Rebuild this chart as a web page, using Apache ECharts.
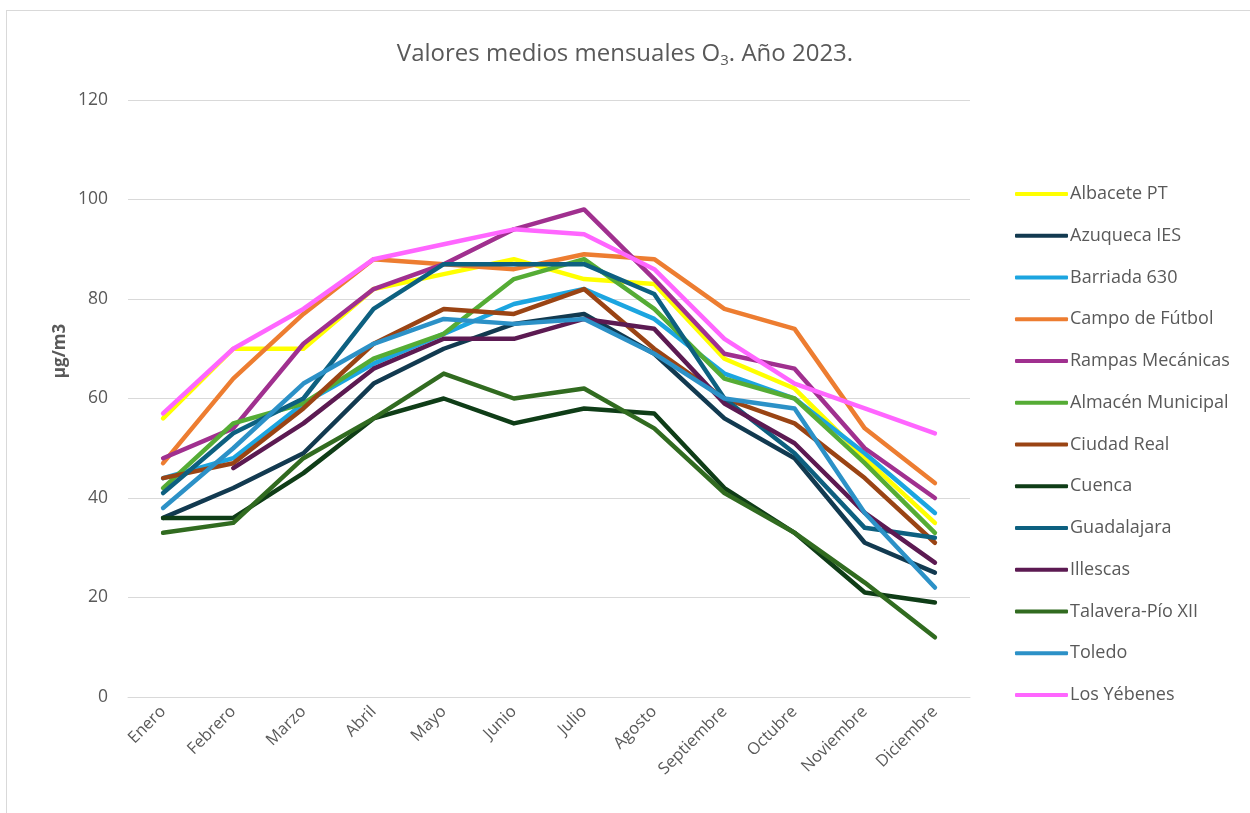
<!DOCTYPE html>
<html>
<head>
<meta charset="utf-8">
<script src="https://cdn.jsdelivr.net/npm/echarts@6/dist/echarts.min.js"></script>
<style>
  html, body { margin: 0; padding: 0; background: #ffffff; }
  #frame { position: absolute; left: 6px; top: 10px; width: 1250px; height: 810px; border: 1px solid #d9d9d9; box-sizing: border-box; }
  #chart { position: absolute; left: 0; top: 0; width: 1250px; height: 813px; }
</style>
</head>
<body>
<div id="frame"></div>
<div id="chart"></div>
<script>
const months = ['Enero','Febrero','Marzo','Abril','Mayo','Junio','Julio','Agosto','Septiembre','Octubre','Noviembre','Diciembre'];
const yTicks = [0, 20, 40, 60, 80, 100, 120];

const albacetePT      = [56, 70, 70, 82, 85, 88, 84, 83, 68, 62, 48, 35];
const azuquecaIES     = [36, 42, 49, 63, 70, 75, 77, 69, 56, 48, 31, 25];
const barriada630     = [44, 48, 59, 67, 73, 79, 82, 76, 65, 60, 49, 37];
const campoFutbol     = [47, 64, 77, 88, 87, 86, 89, 88, 78, 74, 54, 43];
const rampasMecanicas = [48, 54, 71, 82, 87, 94, 98, 84, 69, 66, 50, 40];
const almacenMunicipal= [42, 55, 59, 68, 73, 84, 88, 78, 64, 60, 47, 33];
const ciudadReal      = [44, 47, 58, 71, 78, 77, 82, 70, 60, 55, 44, 31];
const cuenca          = [36, 36, 45, 56, 60, 55, 58, 57, 42, 33, 21, 19];
const guadalajara     = [41, 53, 60, 78, 87, 87, 87, 81, 60, 49, 34, 32];
const illescas        = [null, 46, 55, 66, 72, 72, 76, 74, 59, 51, 37, 27];
const talavera        = [33, 35, 48, 56, 65, 60, 62, 54, 41, 33, 23, 12];
const toledo          = [38, 50, 63, 71, 76, 75, 76, 69, 60, 58, 37, 22];
const losYebenes      = [57, 70, 78, 88, 91, 94, 93, 86, 72, 63, 58, 53];

const seriesNames  = ['Albacete PT','Azuqueca IES','Barriada 630','Campo de Fútbol','Rampas Mecánicas','Almacén Municipal','Ciudad Real','Cuenca','Guadalajara','Illescas','Talavera-Pío XII','Toledo','Los Yébenes'];
const seriesData   = [albacetePT, azuquecaIES, barriada630, campoFutbol, rampasMecanicas, almacenMunicipal, ciudadReal, cuenca, guadalajara, illescas, talavera, toledo, losYebenes];
const seriesColors = ['#FFFF00','#123A50','#1CA5E0','#ED7D31','#A0308F','#55AC35','#9A4414','#0F3D17','#0D6080','#5C1A52','#316B20','#2C91C7','#FF66FF'];

const FONT = '"Open Sans", "Noto Sans", sans-serif';
const chart = echarts.init(document.getElementById('chart'), null, { renderer: 'canvas' });

chart.setOption({
  animation: false,
  backgroundColor: 'transparent',
  color: seriesColors,
  title: {
    text: '{a|Valores medios mensuales O}{b|3}{a|. Año 2023.}',
    left: 'center',
    top: 33,
    textStyle: {
      rich: {
        a: { fontFamily: FONT, fontSize: 24, color: '#595959', fontWeight: 'normal', lineHeight: 32 },
        b: { fontFamily: FONT, fontSize: 15, color: '#595959', fontWeight: 'normal', padding: [13, 0, 0, 0], lineHeight: 32 }
      }
    }
  },
  graphic: [{
    type: 'text',
    x: 60,
    y: 351,
    rotation: Math.PI / 2,
    style: {
      text: 'µg/m3',
      fontFamily: FONT,
      fontSize: 17,
      fontWeight: 'bold',
      fill: '#595959',
      align: 'center',
      verticalAlign: 'middle'
    }
  }],
  legend: {
    orient: 'vertical',
    left: 1010,
    top: 178,
    icon: 'roundRect',
    itemWidth: 53,
    itemHeight: 4,
    itemGap: 19.75,
    textStyle: { fontFamily: FONT, fontSize: 18, color: '#595959', lineHeight: 22, padding: [0, 0, 0, -3] },
    data: seriesNames
  },
  grid: { left: 128, right: 280, top: 100, bottom: 116, containLabel: false },
  xAxis: {
    type: 'category',
    data: months,
    boundaryGap: true,
    axisLine: { show: true, lineStyle: { color: '#d9d9d9', width: 1 } },
    axisTick: { show: false },
    axisLabel: { rotate: 45, fontFamily: FONT, fontSize: 16.5, color: '#595959', margin: 12, interval: 0 }
  },
  yAxis: {
    type: 'value',
    min: yTicks[0],
    max: yTicks[yTicks.length - 1],
    interval: yTicks[1] - yTicks[0],
    axisLine: { show: false },
    axisTick: { show: false },
    axisLabel: { fontFamily: FONT, fontSize: 17.5, color: '#595959', margin: 20 },
    splitLine: { show: true, lineStyle: { color: '#d9d9d9', width: 1 } }
  },
  series: seriesNames.map((name, i) => ({
    name: name,
    type: 'line',
    data: seriesData[i],
    showSymbol: false,
    symbol: 'none',
    connectNulls: false,
    lineStyle: { width: 4.5, color: seriesColors[i], cap: 'round', join: 'round' },
    itemStyle: { color: seriesColors[i] },
    emphasis: { disabled: true }
  }))
});
</script>
</body>
</html>
